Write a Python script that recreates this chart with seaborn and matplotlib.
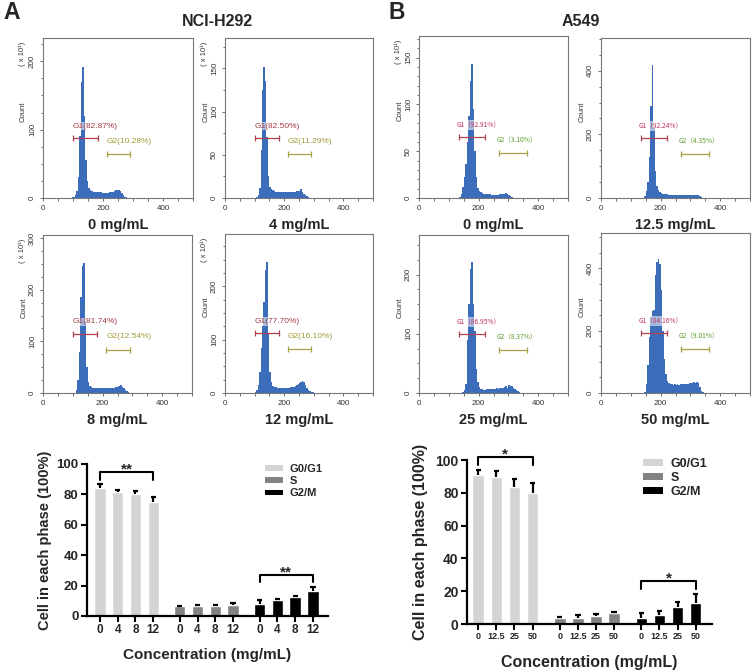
import numpy as np
import pandas as pd
import seaborn as sns
import matplotlib.pyplot as plt
import matplotlib.ticker as ticker
import matplotlib.transforms as mtransforms
from matplotlib.patches import Patch

sns.set_style('white')
plt.rcParams['font.family'] = ['Liberation Sans', 'DejaVu Sans']

W, H = 753, 671
BIN = 5

# ---------------- NCI-H292 DNA histograms (count x10 per 5-channel bin) ----------------
h292_doses = ['0 mg/mL', '4 mg/mL', '8 mg/mL', '12 mg/mL']
h292_g1_pct = ['82.87', '82.50', '81.74', '77.70']
h292_g2_pct = ['10.28', '11.29', '12.54', '16.10']
h292_first_bin = [90, 100, 105, 100]
h292_0 = [0.5, 1, 2, 4, 10, 30, 90, 170, 192, 120, 55, 25, 14, 11, 10, 9.5, 9, 9.5, 9, 8.5,
          8.5, 8, 8, 8, 8, 8, 8.5, 9, 9.5, 10, 11, 11.5, 12, 10, 7, 4, 2, 1, 0.5]
h292_4 = [0.5, 1, 4, 12, 55, 125, 152, 135, 70, 25, 13, 10, 9, 8, 7.5, 7, 7, 7, 6.5, 6.5,
          6.5, 6.5, 6.5, 7, 7, 7, 7.5, 7.5, 8, 8, 8.5, 10, 7, 5, 3.5, 2, 1, 0.5]
h292_8 = [0.5, 5, 25, 80, 185, 245, 252, 140, 50, 22, 13, 11, 10, 10, 9.5, 9.5, 9.5, 9.5, 9.5,
          9.5, 10, 10, 10, 10, 10, 10.5, 10.5, 11, 12, 13, 14.5, 15, 12, 9, 6, 3.5, 2, 0.8]
h292_12 = [1, 5, 15, 40, 85, 125, 170, 230, 245, 110, 40, 20, 14, 12, 11, 10, 9.5, 9.5, 9.5,
           9.5, 10, 10, 10, 10, 10.5, 11, 11.5, 13, 15, 17, 19, 21, 22, 20, 15, 10, 6, 4, 2, 1, 0.5]
h292_counts = [h292_0, h292_4, h292_8, h292_12]
h292_ymax = [234, 185, 306, 298]
h292_ymajor = [100, 50, 100, 100]
h292_yminor = [25, 25, 25, 25]
h292_g1_gate = [100, 182]
h292_g2_gate = [213, 291]

# ---------------- A549 DNA histograms ----------------
a549_doses = ['0 mg/mL', '12.5 mg/mL', '25 mg/mL', '50 mg/mL']
a549_g1_pct = ['92.91', '92.24', '86.95', '84.16']
a549_g2_pct = ['3.10', '4.35', '8.37', '9.01']
a549_first_bin = [130, 140, 145, 145]
a549_0 = [0.5, 1.5, 4, 12, 22, 36, 60, 88, 125, 143, 95, 50, 22, 11, 7.5, 6, 5, 4.5, 4, 4,
          4, 4, 3.5, 3.5, 3.5, 3.5, 3.5, 3.5, 4, 4.5, 4, 4.5, 5, 4, 3, 2, 1, 0.5]
a549_125 = [1, 5, 22, 50, 130, 290, 418, 220, 85, 38, 25, 19, 16, 14, 13, 12, 11.5, 11, 11,
            10.5, 11, 10.5, 11, 10, 10.5, 11, 10, 10.5, 11, 10, 10.5, 10, 11, 10, 10.5, 10,
            10, 9, 7, 3, 1]
a549_25 = [1, 5, 15, 90, 150, 210, 222, 150, 105, 40, 18, 10, 7, 6, 5.5, 5.5, 6, 7, 6, 7,
           6.5, 7.5, 7, 8, 7.5, 8, 8.5, 9, 10, 12, 9, 13, 11, 12, 9, 7, 5, 3, 1.5, 0.5]
a549_50 = [2, 30, 90, 180, 245, 262, 268, 380, 420, 430, 415, 330, 200, 110, 60, 38, 32, 30,
           28, 27, 28, 27, 28, 27, 28, 28, 29, 30, 29, 30, 31, 32, 33, 34, 33, 34, 32, 20, 8, 2]
a549_counts = [a549_0, a549_125, a549_25, a549_50]
a549_ymax = [173, 503, 267, 514]
a549_ymajor = [50, 200, 100, 200]
a549_yminor = [10, 50, 25, 50]
a549_g1_gate = [133, 221]
a549_g2_gate = [270, 362]

# ---------------- cell-cycle bar charts (mean, upper SD) ----------------
phases = ['G0/G1', 'S', 'G2/M']
h292_conc = ['0', '4', '8', '12']
h292_g1 = [84.1, 81.9, 80.4, 74.9]
h292_g1_err = [2.7, 0.7, 2.0, 3.3]
h292_s = [6.6, 6.6, 6.4, 7.3]
h292_s_err = [0.3, 0.9, 1.1, 1.3]
h292_g2m = [8.1, 10.4, 12.3, 16.7]
h292_g2m_err = [2.5, 0.6, 0.9, 2.5]
h292_sig = ['**', '**']

a549_conc = ['0', '12.5', '25', '50']
a549_g1 = [90.9, 89.4, 83.7, 80.1]
a549_g1_err = [3.0, 4.1, 4.7, 6.1]
a549_s = [3.9, 3.9, 4.9, 6.5]
a549_s_err = [0.6, 1.6, 1.2, 0.8]
a549_g2m = [3.9, 5.5, 10.2, 12.6]
a549_g2m_err = [2.6, 2.6, 3.4, 5.7]
a549_sig = ['*', '*']

phase_colors = ['#d4d4d4', '#838383', '#000000']
HIST_BLUE = '#3b6dba'
AXIS_TXT = '#333333'

fig = plt.figure(figsize=(W / 100, H / 100), dpi=100)


def px_axes(x0, y0, x1, y1):
    return fig.add_axes([x0 / W, 1 - y1 / H, (x1 - x0) / W, (y1 - y0) / H])


def draw_hist(ax, first, counts, ymax, ymajor, yminor, x10, g1_pct, g2_pct,
              g1_gate, g2_gate, style):
    n = len(counts)
    hist_df = pd.DataFrame({'channel': first + BIN * (np.arange(n) + 0.5), 'count': counts})
    sns.histplot(data=hist_df, x='channel', weights='count', binwidth=BIN,
                 binrange=(first, first + BIN * n), element='step',
                 fill=True, color=HIST_BLUE, alpha=1, linewidth=0, ax=ax)
    ax.set_xlim(0, 500)
    ax.set_ylim(0, ymax)
    ax.set_xlabel('')
    ax.set_ylabel('')
    ax.xaxis.set_major_locator(ticker.MultipleLocator(200))
    ax.xaxis.set_minor_locator(ticker.MultipleLocator(50))
    ax.yaxis.set_major_locator(ticker.MultipleLocator(ymajor))
    ax.yaxis.set_minor_locator(ticker.MultipleLocator(yminor))
    ax.tick_params(which='both', direction='out', color='#555555', width=0.6,
                   bottom=True, left=True, labelsize=5.8, labelcolor=AXIS_TXT, pad=2.5)
    ax.tick_params(which='major', length=2.5)
    ax.tick_params(which='minor', length=1.8)
    ax.tick_params(axis='y', labelrotation=90)
    for lbl in ax.get_yticklabels():
        lbl.set_va('center')
    for sp in ax.spines.values():
        sp.set_color('#777777')
        sp.set_linewidth(0.8)
    ax.text(-0.13, 0.54, 'Count', transform=ax.transAxes, rotation=90, ha='center',
            va='center', fontsize=5.5, color=AXIS_TXT)
    if x10:
        ax.text(-0.14, 0.9, '( x 10¹)', transform=ax.transAxes, rotation=90,
                ha='center', va='center', fontsize=5.5, color=AXIS_TXT)

    trans = mtransforms.blended_transform_factory(ax.transData, ax.transAxes)
    if style == 'h292':
        c1t, c1b, c2t, c2b = '#a33a46', '#b0404e', '#a09a38', '#a8a245'
        t1, t2 = f'G1({g1_pct}%)', f'G2({g2_pct}%)'
        fam, fs, dx = ['Liberation Sans', 'DejaVu Sans'], 6, 0
    else:
        c1t, c1b, c2t, c2b = '#c2305e', '#b04550', '#5f9a30', '#a8a245'
        t1, t2 = f'G1（{g1_pct}%）', f'G2（{g2_pct}%）'
        fam, fs, dx = ['Noto Sans CJK SC', 'DejaVu Sans'], 4.8, -8
    ax.plot(g1_gate, [0.375, 0.375], color=c1b, lw=0.9, marker='|', ms=5, mew=0.9,
            transform=trans)
    ax.plot(g2_gate, [0.275, 0.275], color=c2b, lw=0.9, marker='|', ms=5, mew=0.9,
            transform=trans)
    ax.text(g1_gate[0] + dx, 0.45, t1, transform=trans, ha='left', va='center',
            fontsize=fs, color=c1t, family=fam,
            bbox=dict(facecolor='white', alpha=0.55, edgecolor='none', pad=0.6))
    ax.text(g2_gate[0] + dx, 0.355, t2, transform=trans, ha='left', va='center',
            fontsize=fs, color=c2t, family=fam)


h292_rects = [(43, 38, 193, 198), (225, 38, 373, 198), (43, 235, 192, 393), (225, 234, 373, 393)]
a549_rects = [(419, 36, 568, 198), (601, 38, 750, 198), (419, 235, 568, 393), (601, 233, 750, 393)]

for i in range(4):
    r = h292_rects[i]
    ax = px_axes(*r)
    draw_hist(ax, h292_first_bin[i], h292_counts[i], h292_ymax[i], h292_ymajor[i],
              h292_yminor[i], True, h292_g1_pct[i], h292_g2_pct[i],
              h292_g1_gate, h292_g2_gate, 'h292')
    fig.text((r[0] + r[2]) / 2 / W, 1 - (r[3] + 31) / H, h292_doses[i], ha='center',
             va='baseline', fontsize=10.5, fontweight='bold')

    r = a549_rects[i]
    ax = px_axes(*r)
    draw_hist(ax, a549_first_bin[i], a549_counts[i], a549_ymax[i], a549_ymajor[i],
              a549_yminor[i], i == 0, a549_g1_pct[i], a549_g2_pct[i],
              a549_g1_gate, a549_g2_gate, 'a549')
    fig.text((r[0] + r[2]) / 2 / W, 1 - (r[3] + 31) / H, a549_doses[i], ha='center',
             va='baseline', fontsize=10.5, fontweight='bold')

fig.text(3 / W, 1 - 19 / H, 'A', fontsize=16.5, fontweight='bold', va='baseline')
fig.text(389 / W, 1 - 19 / H, 'B', fontsize=16.5, fontweight='bold', va='baseline')
fig.text(217 / W, 1 - 26.5 / H, 'NCI-H292', fontsize=11.5, fontweight='bold',
         ha='center', va='baseline')
fig.text(581 / W, 1 - 26.5 / H, 'A549', fontsize=11.5, fontweight='bold',
         ha='center', va='baseline')


def draw_bars(ax, conc, vals, errs, sig, xlim, tick_fs, ytick_fs, lab_fs, xlab_fs,
              ylab_x, xlab_y, leg_xy, leg_fs, leg_space):
    rows = []
    for gi, ph in enumerate(phases):
        for ci, c in enumerate(conc):
            rows.append(dict(pos=gi * 4.5 + ci, value=vals[gi][ci], err=errs[gi][ci],
                             phase=ph))
    df = pd.DataFrame(rows)
    sns.barplot(data=df, x='pos', y='value', hue='phase', hue_order=phases,
                palette=phase_colors, native_scale=True, dodge=False, width=0.64,
                errorbar=None, saturation=1, legend=False, ax=ax)
    top = df.value + df.err
    ax.vlines(df.pos, df.value, top, color='black', lw=1.6)
    ax.hlines(top, df.pos - 0.15, df.pos + 0.15, color='black', lw=1.6)

    for gi, stars in zip([0, 2], sig):
        sub = df[df.phase == phases[gi]]
        y = (sub.value + sub.err).max() + 8
        x0, x1 = sub.pos.min(), sub.pos.max()
        ax.plot([x0, x0, x1, x1], [y - 5, y, y, y - 5], color='black', lw=1.5,
                clip_on=False)
        ax.text((x0 + x1) / 2, y - 1, stars, ha='center', va='baseline',
                fontsize=11, fontweight='bold')

    ax.set_xlim(*xlim)
    ax.set_ylim(0, 100)
    ax.set_xticks(df.pos)
    ax.set_xticklabels(list(conc) * 3, fontsize=tick_fs, fontweight='bold')
    ax.set_yticks([0, 20, 40, 60, 80, 100])
    ax.set_yticklabels(['0', '20', '40', '60', '80', '100'], fontsize=ytick_fs,
                       fontweight='bold')
    ax.spines[['top', 'right']].set_visible(False)
    for s in ['left', 'bottom']:
        ax.spines[s].set_linewidth(1.6)
        ax.spines[s].set_color('black')
    ax.tick_params(direction='out', length=4, width=1.5, bottom=True, left=True,
                   color='black', pad=2)
    ax.set_ylabel('Cell in each phase (100%)', fontsize=lab_fs, fontweight='bold')
    ax.set_xlabel('Concentration (mg/mL)', fontsize=xlab_fs, fontweight='bold')
    ax.yaxis.set_label_coords(ylab_x, 0.5)
    ax.xaxis.set_label_coords(0.5, xlab_y)

    handles = [Patch(facecolor=c, edgecolor='none') for c in phase_colors]
    ax.legend(handles, phases, loc='upper left', bbox_to_anchor=leg_xy,
              bbox_transform=fig.transFigure, frameon=False, borderpad=0,
              borderaxespad=0, handlelength=1.6, handleheight=0.45,
              handletextpad=0.6, labelspacing=leg_space,
              prop={'weight': 'bold', 'size': leg_fs})


axA = px_axes(87, 464, 328, 616)
draw_bars(axA, h292_conc, [h292_g1, h292_s, h292_g2m],
          [h292_g1_err, h292_s_err, h292_g2m_err], h292_sig,
          (-0.73, 12.85), 8.5, 9.5, 10.5, 11, -0.145, -0.21,
          (265 / W, 1 - 464 / H), 8, 0.2)

axB = px_axes(467, 460, 712, 624)
draw_bars(axB, a549_conc, [a549_g1, a549_s, a549_g2m],
          [a549_g1_err, a549_s_err, a549_g2m_err], a549_sig,
          (-0.62, 12.9), 6.5, 10, 11.5, 11.5, -0.159, -0.19,
          (643 / W, 1 - 458 / H), 9, 0.15)

fig.savefig('out.png', dpi=100)
